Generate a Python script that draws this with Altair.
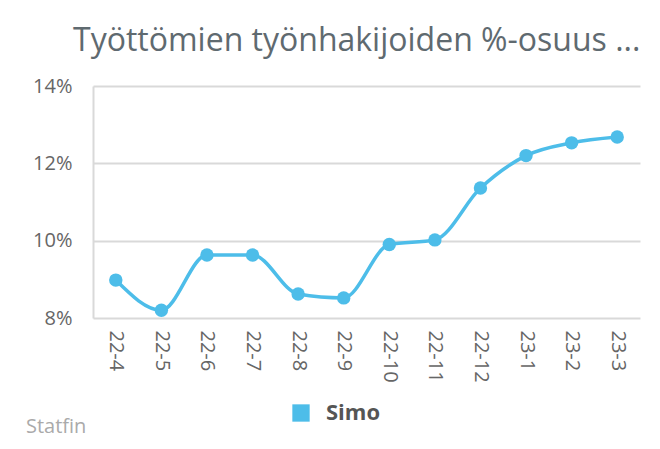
import altair as alt
import pandas as pd

months = ["22-4", "22-5", "22-6", "22-7", "22-8", "22-9", "22-10", "22-11", "22-12", "23-1", "23-2", "23-3"]
values = [8.98, 8.20, 9.63, 9.63, 8.62, 8.52, 9.90, 10.02, 11.36, 12.20, 12.53, 12.68]
series = "Simo"
title_text = "Työttömien työnhakijoiden %-osuus ..."
credit = "Statfin"
y_ticks = [8, 10, 12, 14]

df = pd.DataFrame({"month": months, "value": values, "series": [series] * len(months)})

FONT = "Open Sans"
BLUE = "#4dbde9"

x = alt.X("month:O", sort=months, title=None,
          axis=alt.Axis(labelAngle=90, labelFontSize=20, labelColor="#666666", labelFont=FONT,
                        ticks=False, domain=False, labelPadding=12, grid=False,
                        labelAlign="left", labelBaseline="middle"))
y = alt.Y("value:Q", title=None,
          scale=alt.Scale(domain=[8, 14], nice=False, zero=False),
          axis=alt.Axis(values=y_ticks, labelExpr="datum.value + '%'", labelFontSize=20,
                        labelColor="#666666", labelFont=FONT, ticks=False, labelPadding=21,
                        domain=True, domainColor="#d9d9d9", domainWidth=2,
                        grid=True, gridColor="#d9d9d9", gridWidth=2))

line = alt.Chart(df).mark_line(color=BLUE, strokeWidth=3.5, interpolate="monotone").encode(x=x, y=y)
points = alt.Chart(df).mark_point(filled=True, size=180, opacity=1).encode(
    x=x, y=y,
    color=alt.Color("series:N", scale=alt.Scale(range=[BLUE]), title=None,
                    legend=alt.Legend(orient="none", legendX=197, legendY=316,
                                      symbolType="square", symbolSize=300,
                                      labelFontSize=22, labelFontWeight="bold",
                                      labelColor="#555555", labelFont=FONT,
                                      labelOffset=14, symbolOpacity=1))
)
caption = alt.Chart(pd.DataFrame({"t": [credit]})).mark_text(
    align="left", baseline="alphabetic", fontSize=20, color="#aaaaaa", font=FONT
).encode(text="t:N", x=alt.value(-67), y=alt.value(347))

chart = alt.layer(line, points, caption).properties(
    width=547, height=232,
    title=alt.TitleParams(title_text, fontSize=32, font=FONT, fontWeight="normal",
                          color="#5f6a70", anchor="start", frame="group", dx=-20, offset=18),
    autosize=alt.AutoSizeParams(type="none"),
    padding={"left": 93, "top": 86, "right": 20, "bottom": 131},
).configure_view(stroke=None)

chart.save("out.html", embed_options={"renderer": "svg", "actions": False})
